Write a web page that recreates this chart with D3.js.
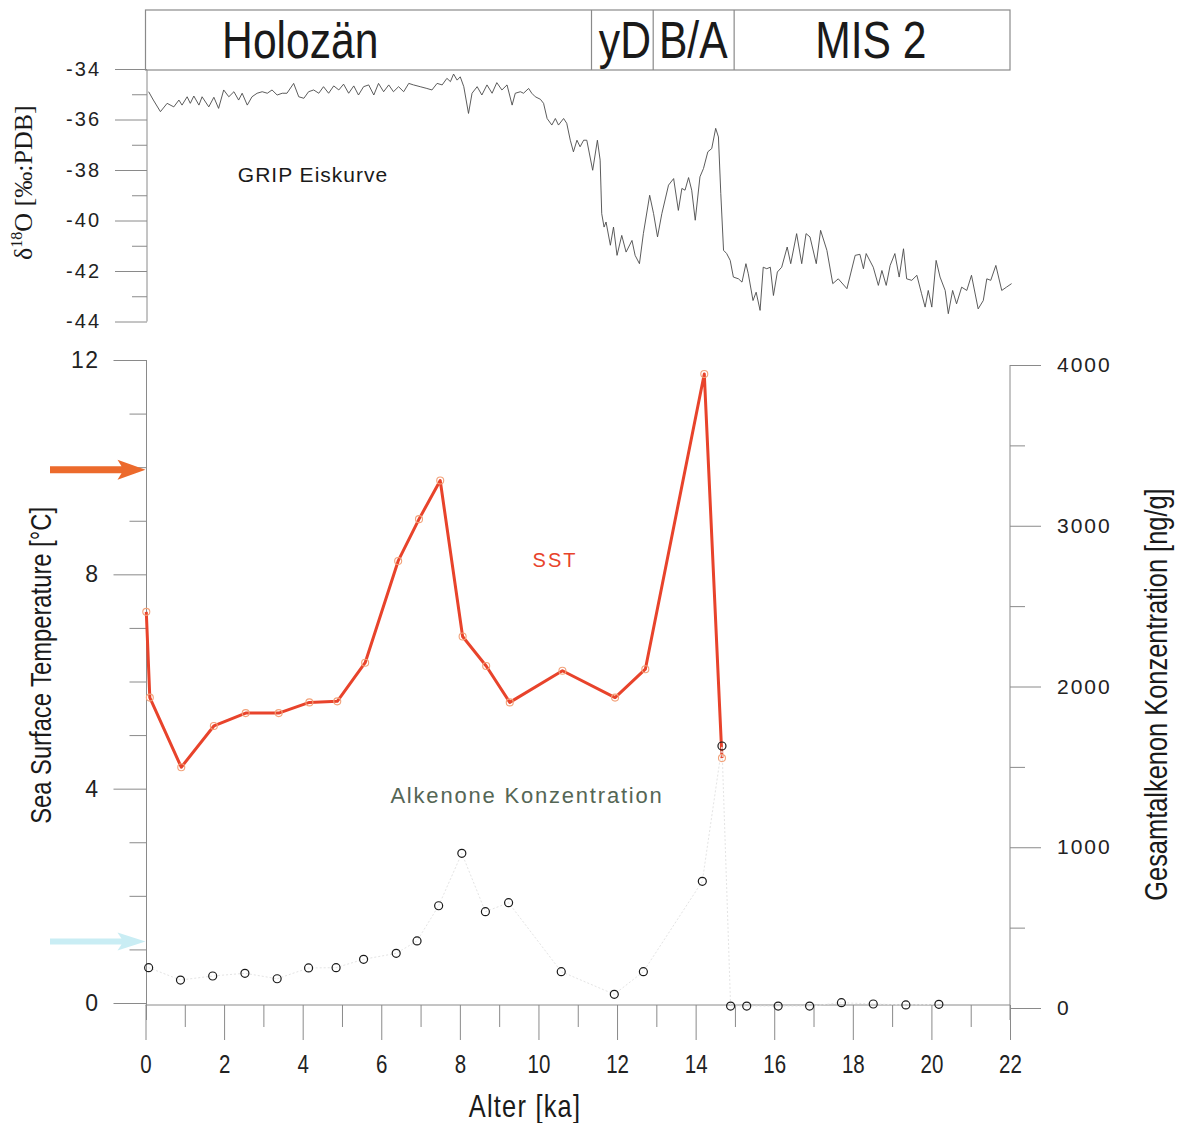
<!DOCTYPE html>
<html>
<head>
<meta charset="utf-8">
<script src="https://cdn.jsdelivr.net/npm/d3@7"></script>
<style>
  html, body { margin: 0; padding: 0; background: #fff; }
  svg { display: block; }
</style>
</head>
<body>
<svg id="chart" width="1179" height="1123"></svg>
<script>
// ---------------- DATA ----------------
const periodNames  = ["Holozän", "yD", "B/A", "MIS 2"];
const periodBounds = [0, 11.35, 12.92, 14.98, 22];     // ka
const periodLabelAge = [3.94, 12.2, 13.94, 18.46];     // label centre (ka)

const gripAge = [
  0.08,0.20,0.38,0.55,0.72,0.85,0.93,1.06,1.14,1.23,
  1.36,1.44,1.61,1.74,1.86,1.99,2.12,2.25,2.37,2.46,
  2.59,2.71,2.84,2.97,3.10,3.22,3.35,3.48,3.60,3.77,
  3.90,4.03,4.15,4.28,4.41,4.53,4.66,4.79,4.92,5.04,
  5.17,5.30,5.42,5.55,5.68,5.81,5.93,6.06,6.19,6.31,
  6.44,6.57,6.70,6.82,6.99,7.16,7.29,7.42,7.55,7.67,
  7.76,7.84,7.93,8.01,8.10,8.22,8.31,8.44,8.56,8.69,
  8.82,8.94,9.07,9.20,9.33,9.41,9.54,9.62,9.75,9.83,
  9.92,10.05,10.13,10.22,10.34,10.43,10.51,10.64,10.72,10.81,
  10.89,10.98,11.06,11.15,11.23,11.38,11.50,11.57,11.61,11.67,
  11.72,11.83,11.91,12.00,12.12,12.23,12.38,12.46,12.57,12.67,
  12.83,12.93,13.03,13.14,13.31,13.44,13.56,13.65,13.73,13.82,
  13.90,13.99,14.11,14.20,14.31,14.41,14.51,14.58,14.64,14.71,
  14.79,14.88,14.96,15.09,15.18,15.28,15.34,15.46,15.54,15.64,
  15.72,15.81,15.90,15.98,16.08,16.19,16.33,16.42,16.57,16.70,
  16.81,16.91,17.07,17.18,17.34,17.49,17.63,17.85,18.06,18.18,
  18.27,18.34,18.52,18.65,18.74,18.85,18.95,19.07,19.18,19.29,
  19.37,19.50,19.63,19.75,19.84,19.92,20.01,20.12,20.22,20.35,
  20.43,20.54,20.64,20.77,20.90,21.02,21.19,21.32,21.41,21.51,
  21.64,21.79,21.91,22.04
];
const gripD18O = [
  -34.90,-35.23,-35.69,-35.36,-35.50,-35.23,-35.43,-35.10,-35.36,-35.07,
  -35.43,-35.10,-35.50,-35.12,-35.56,-34.83,-35.10,-34.90,-35.23,-34.96,
  -35.43,-35.10,-34.96,-34.90,-34.96,-34.83,-35.03,-34.96,-34.96,-34.57,
  -35.10,-35.16,-34.90,-34.83,-34.96,-34.70,-34.96,-34.67,-34.83,-34.60,
  -34.96,-34.67,-35.03,-34.70,-34.63,-35.03,-34.57,-34.90,-34.63,-34.90,
  -34.70,-34.90,-34.57,-34.63,-34.70,-34.77,-34.83,-34.57,-34.63,-34.37,
  -34.50,-34.20,-34.44,-34.31,-34.70,-35.76,-34.96,-34.70,-35.03,-34.63,
  -34.96,-34.54,-34.83,-34.63,-35.43,-34.96,-34.90,-34.96,-34.77,-34.96,
  -35.10,-35.20,-35.36,-35.96,-36.22,-35.96,-36.22,-35.96,-36.15,-36.82,
  -37.28,-36.82,-37.08,-36.82,-36.82,-38.01,-36.82,-37.61,-39.73,-40.26,
  -40.06,-40.98,-40.26,-41.38,-40.59,-41.25,-40.79,-41.38,-41.71,-40.52,
  -39.00,-39.73,-40.65,-39.73,-38.60,-38.34,-39.60,-38.73,-38.80,-38.30,
  -38.80,-39.99,-38.27,-37.94,-37.28,-37.15,-36.35,-36.69,-38.93,-41.18,
  -41.31,-41.58,-42.24,-42.31,-42.44,-41.71,-42.11,-43.17,-42.84,-43.56,
  -41.85,-41.91,-41.85,-42.97,-42.04,-41.85,-41.05,-41.71,-40.52,-41.71,
  -40.52,-40.65,-41.71,-40.39,-41.18,-42.50,-42.31,-42.70,-41.38,-41.34,
  -41.91,-41.31,-41.85,-42.57,-41.98,-42.57,-41.78,-41.31,-42.24,-41.12,
  -42.31,-42.37,-42.17,-42.90,-43.43,-42.77,-43.43,-41.58,-42.24,-42.77,
  -43.69,-42.77,-43.30,-42.64,-42.77,-42.17,-43.50,-43.17,-42.31,-42.37,
  -41.78,-42.77,-42.64,-42.50
];

const sstAge   = [0.02,0.11,0.91,1.74,2.55,3.39,4.17,4.88,5.59,6.43,6.96,7.50,8.07,8.67,9.27,10.61,11.95,12.72,14.22,14.67];
const sstValue = [7.30,5.70,4.40,5.17,5.41,5.41,5.61,5.63,6.35,8.25,9.03,9.75,6.84,6.29,5.61,6.20,5.70,6.23,11.74,4.57];

const alkAge   = [0.08,0.89,1.71,2.53,3.35,4.15,4.85,5.55,6.38,6.91,7.46,8.05,8.65,9.24,10.58,11.93,12.67,14.17,14.67,14.89,15.30,16.10,16.90,17.71,18.52,19.35,20.19];
const alkValue = [251,174,199,216,182,249,251,303,340,417,636,962,599,655,226,85,226,788,1630,12,12,12,12,33,25,19,23];

const arrowTemps  = [9.95, 1.15];           // reference SST arrows (°C)
const arrowColors = ["#ec6a2c", "#c9edf4"];

const ageTicks   = [0,2,4,6,8,10,12,14,16,18,20,22];
const ageMinor   = [1,3,5,7,9,11,13,15,17,19,21];
const gripTicks  = [-34,-36,-38,-40,-42,-44];
const gripMinor  = [-35,-37,-39,-41,-43];
const sstTicks   = [0,4,8,12];
const sstMinor   = [1,2,3,5,6,7,9,10,11];
const alkTicks   = [0,1000,2000,3000,4000];
const alkMinor   = [500,1500,2500,3500];

// ---------------- LAYOUT ----------------
const svg = d3.select("#chart");
const AX = "#8a8a8a";
const SANS = "'Liberation Sans', Arial, Helvetica, sans-serif";
const NARROW = 0.82;   // horizontal compression to mimic Helvetica Narrow
const x = d3.scaleLinear().domain([0, 22]).range([145.5, 1010]);
const yGrip = d3.scaleLinear().domain([-44, -34]).range([321.5, 69]);
const ySST  = d3.scaleLinear().domain([0, 12]).range([1003, 360]);
const yAlk  = d3.scaleLinear().domain([0, 4000]).range([1008, 365]);
const xAxisY = 1005;
const plain = d => String(d);

svg.append("rect").attr("width", 1179).attr("height", 1123).attr("fill", "#fff");

function narrowText(px, py, rot, size, txt, extra) {
  const t = svg.append("text")
    .attr("transform", `translate(${px},${py}) rotate(${rot}) scale(${NARROW},1)`)
    .attr("text-anchor", "middle").attr("font-family", SANS)
    .attr("font-size", size).attr("fill", "#1a1a1a").text(txt);
  if (extra) extra(t);
  return t;
}

// ---- header box ----
svg.append("rect").attr("x", x(0)).attr("y", 10).attr("width", x(22) - x(0)).attr("height", 60)
  .attr("fill", "none").attr("stroke", AX).attr("stroke-width", 1.2);
periodBounds.slice(1, -1).forEach(b => {
  svg.append("line").attr("x1", x(b)).attr("x2", x(b)).attr("y1", 10).attr("y2", 70)
    .attr("stroke", AX).attr("stroke-width", 1.2);
});
periodNames.forEach((n, i) => narrowText(x(periodLabelAge[i]), 58, 0, 52, n));

function styleAxis(g) {
  g.selectAll(".domain").remove();
  g.selectAll(".tick line").attr("stroke", AX).attr("stroke-width", 1);
}

// ---- GRIP panel ----
svg.append("g").attr("transform", `translate(${x(0) + 1.5},0)`)
  .call(d3.axisLeft(yGrip).tickValues(gripTicks).tickSize(32).tickPadding(14).tickFormat(plain))
  .call(styleAxis)
  .selectAll("text").attr("font-family", SANS)
  .attr("font-size", 20).attr("letter-spacing", 2).attr("fill", "#222");
svg.append("g").attr("transform", `translate(${x(0) + 1.5},0)`)
  .call(d3.axisLeft(yGrip).tickValues(gripMinor).tickSize(15).tickFormat(""))
  .call(styleAxis);
svg.append("line").attr("x1", x(0) + 1.5).attr("x2", x(0) + 1.5).attr("y1", 70).attr("y2", yGrip(-44))
  .attr("stroke", AX).attr("stroke-width", 1);

const gripData = d3.zip(gripAge, gripD18O);
svg.append("path").datum(gripData)
  .attr("d", d3.line().x(d => x(d[0])).y(d => yGrip(d[1])))
  .attr("fill", "none").attr("stroke", "#4a4a4a").attr("stroke-width", 0.9);

svg.append("text").attr("x", 313).attr("y", 182).attr("text-anchor", "middle")
  .attr("font-family", SANS).attr("font-size", 21)
  .attr("letter-spacing", 1).attr("fill", "#1a1a1a").text("GRIP Eiskurve");

svg.append("text")
  .attr("transform", `translate(32,${yGrip(-38.5)}) rotate(-90)`)
  .attr("text-anchor", "middle")
  .attr("font-family", "'Liberation Serif', 'Times New Roman', serif")
  .attr("font-size", 26).attr("fill", "#1a1a1a")
  .call(t => {
    t.append("tspan").text("δ");
    t.append("tspan").attr("font-size", 16).attr("dy", -10).text("18");
    t.append("tspan").attr("dy", 10).text("O [‰:PDB]");
  });

// ---- lower panel axes ----
svg.append("g").attr("transform", `translate(${x(0) + 1},0)`)
  .call(d3.axisLeft(ySST).tickValues(sstTicks).tickSize(33).tickPadding(14).tickFormat(plain))
  .call(styleAxis)
  .selectAll("text").attr("font-family", SANS)
  .attr("font-size", 23).attr("letter-spacing", 1.5).attr("fill", "#222");
svg.append("g").attr("transform", `translate(${x(0) + 1},0)`)
  .call(d3.axisLeft(ySST).tickValues(sstMinor).tickSize(17).tickFormat(""))
  .call(styleAxis);
svg.append("line").attr("x1", x(0) + 1).attr("x2", x(0) + 1).attr("y1", ySST(12)).attr("y2", xAxisY + 15)
  .attr("stroke", AX).attr("stroke-width", 1);

svg.append("g").attr("transform", `translate(${x(22)},0)`)
  .call(d3.axisRight(yAlk).tickValues(alkTicks).tickSize(31).tickPadding(16).tickFormat(plain))
  .call(styleAxis)
  .selectAll("text").attr("font-family", SANS)
  .attr("font-size", 21).attr("letter-spacing", 2).attr("fill", "#222");
svg.append("g").attr("transform", `translate(${x(22)},0)`)
  .call(d3.axisRight(yAlk).tickValues(alkMinor).tickSize(15).tickFormat(""))
  .call(styleAxis);
svg.append("line").attr("x1", x(22)).attr("x2", x(22)).attr("y1", yAlk(4000)).attr("y2", xAxisY + 15)
  .attr("stroke", AX).attr("stroke-width", 1);

svg.append("g").attr("transform", `translate(0,${xAxisY})`)
  .call(d3.axisBottom(x).tickValues(ageTicks).tickSize(35).tickPadding(15).tickFormat(plain))
  .call(styleAxis)
  .selectAll("text").attr("font-family", SANS)
  .attr("font-size", 25).attr("transform", `scale(${NARROW},1)`).attr("fill", "#222");
svg.append("g").attr("transform", `translate(0,${xAxisY})`)
  .call(d3.axisBottom(x).tickValues(ageMinor).tickSize(22).tickFormat(""))
  .call(styleAxis);
svg.append("line").attr("x1", x(0)).attr("x2", x(22)).attr("y1", xAxisY).attr("y2", xAxisY)
  .attr("stroke", AX).attr("stroke-width", 1);

// axis titles
narrowText(51, ySST(6.3), -90, 29, "Sea Surface Temperature [°C]");
narrowText(1167, yAlk(1950), -90, 31, "Gesamtalkenon Konzentration [ng/g]");
narrowText(525, 1117, 0, 31, "Alter [ka]", t => t.attr("letter-spacing", 1.5));

// ---- arrows ----
arrowTemps.forEach((t, i) => {
  const yy = ySST(t), xe = x(0), th = i === 0 ? 3.5 : 3, hh = i === 0 ? 10 : 9, hl = 28;
  svg.append("path")
    .attr("d", `M50,${yy - th} L${xe - hl + 4},${yy - th} L${xe - hl},${yy - hh} L${xe},${yy} L${xe - hl},${yy + hh} L${xe - hl + 4},${yy + th} L50,${yy + th} Z`)
    .attr("fill", arrowColors[i]);
});

// ---- SST series ----
const sstData = d3.zip(sstAge, sstValue);
svg.append("path").datum(sstData)
  .attr("d", d3.line().x(d => x(d[0])).y(d => ySST(d[1])))
  .attr("fill", "none").attr("stroke", "#e8432b").attr("stroke-width", 3).attr("stroke-linejoin", "round");
svg.append("g").selectAll("circle").data(sstData).join("circle")
  .attr("cx", d => x(d[0])).attr("cy", d => ySST(d[1])).attr("r", 3.5)
  .attr("fill", "none").attr("stroke", "#f2a27a").attr("stroke-width", 1.1);

// ---- Alkenone series ----
const alkData = d3.zip(alkAge, alkValue);
svg.append("path").datum(alkData)
  .attr("d", d3.line().x(d => x(d[0])).y(d => yAlk(d[1])))
  .attr("fill", "none").attr("stroke", "#e4e4e4").attr("stroke-width", 1).attr("stroke-dasharray", "2,2");
svg.append("g").selectAll("circle").data(alkData).join("circle")
  .attr("cx", d => x(d[0])).attr("cy", d => yAlk(d[1])).attr("r", 4)
  .attr("fill", "none").attr("stroke", "#1a1a1a").attr("stroke-width", 1.2);

// ---- series labels ----
svg.append("text").attr("x", 555).attr("y", 567).attr("text-anchor", "middle")
  .attr("font-family", SANS).attr("font-size", 20)
  .attr("letter-spacing", 2).attr("fill", "#e8432b").text("SST");
svg.append("text").attr("x", 527).attr("y", 803).attr("text-anchor", "middle")
  .attr("font-family", SANS).attr("font-size", 22)
  .attr("letter-spacing", 1.8).attr("fill", "#556655").text("Alkenone Konzentration");
</script>
</body>
</html>
